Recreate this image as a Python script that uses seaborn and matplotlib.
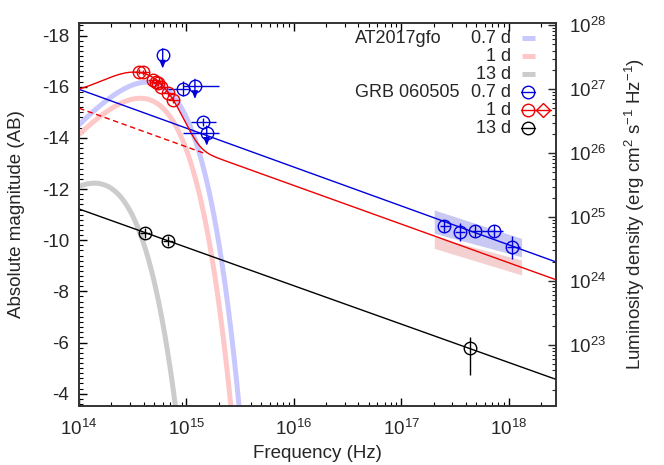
import numpy as np
import pandas as pd
import matplotlib
matplotlib.use("Agg")
import matplotlib.pyplot as plt
import seaborn as sns
from matplotlib.ticker import MultipleLocator, LogLocator, NullFormatter, LogFormatterSciNotation

# ---------------- data ----------------
# Afterglow power laws of GRB 060505 (AB mag at 1e14 Hz, slope in mag per decade)
pl_epochs = ["0.7 d", "1 d", "13 d"]
pl_mag_at_1e14 = [-15.90, -15.16, -11.22]
pl_slope = [1.52, 1.51, 1.50]
pl_colors = ["#0000dd", "#ee0000", "#000000"]

# AT2017gfo kilonova blackbody curves
kn_epochs = ["0.7 d", "1 d", "13 d"]
kn_temp_K = [7290, 6325, 2370]
kn_peak_mag = [-16.18, -15.55, -12.23]
kn_colors = ["#c8c8ff", "#ffc8c8", "#cccccc"]

# GRB 060505 1 d fit: blackbody + power law
fit_bb_temp_K = 5760
fit_bb_peak_mag = -16.42
fit_dashed_max_nu = 1.45e15

# GRB 060505 0.7 d, optical detections
b_opt_nu = [9.2e14, 1.435e15]
b_opt_nu_lo = [6.75e14, 1.096e15]
b_opt_nu_hi = [1.08e15, 1.89e15]
b_opt_mag = [-15.93, -14.63]
b_opt_mag_err = [0.30, 0.15]

# GRB 060505 0.7 d, optical upper limits
b_ul_nu = [6.01e14, 1.20e15, 1.545e15]
b_ul_nu_lo = [6.01e14, 9.29e14, 9.35e14]
b_ul_nu_hi = [6.01e14, 2.01e15, 2.02e15]
b_ul_mag = [-17.23, -16.04, -14.21]

# GRB 060505 0.7 d, X-ray
b_x_nu = [2.52e17, 3.52e17, 4.86e17, 7.36e17, 1.08e18]
b_x_nu_lo = [2.30e17, 3.17e17, 4.37e17, 5.62e17, 9.60e17]
b_x_nu_hi = [2.84e17, 3.93e17, 5.62e17, 8.91e17, 1.28e18]
b_x_mag = [-10.57, -10.33, -10.36, -10.37, -9.72]
b_x_mag_err = [0.23, 0.35, 0.25, 0.23, 0.45]

# GRB 060505 1 d, optical
r_opt_nu = [3.62e14, 3.97e14, 4.92e14, 5.18e14, 5.47e14, 5.79e14, 6.78e14, 7.55e14]
r_opt_mag = [-16.58, -16.56, -16.26, -16.19, -16.13, -16.00, -15.74, -15.48]
r_opt_dex_err = 0.05
r_opt_mag_err = 0.10

# GRB 060505 13 d
k_nu = [4.12e14, 6.78e14, 4.37e17]
k_dex_err = [0.045, 0.045, 0.0]
k_mag = [-10.29, -9.98, -5.78]
k_mag_err_up = [0.20, 0.20, 0.45]
k_mag_err_down = [0.20, 0.20, 1.05]

# X-ray spectral uncertainty bands
band_nu = [2.03e17, 1.32e18]
band_blue_top = [-11.18, -10.07]
band_blue_bottom = [-10.27, -9.35]
band_red_top = [-10.135, -9.225]
band_red_bottom = [-9.68, -8.64]

# ---------------- helpers ----------------
H_OVER_K = 6.626e-27 / 1.381e-16
MAG_ZP = 51.595  # AB magnitude of L_nu = 1 erg/s/Hz at 10 pc


def bb_mag(nu, temp, peak_mag):
    x = H_OVER_K * nu / temp
    with np.errstate(over="ignore"):
        f = x ** 3 / np.expm1(x)
    fmax = 2.8214 ** 3 / np.expm1(2.8214)
    return peak_mag - 2.5 * np.log10(f / fmax)


def pl_mag(nu, m0, slope):
    return m0 + slope * (np.log10(nu) - 14.0)


def add_mag(m1, m2):
    return -2.5 * np.log10(10 ** (-0.4 * m1) + 10 ** (-0.4 * m2))


def m2l(m):
    return 10 ** ((MAG_ZP - np.asarray(m)) / 2.5)


# ---------------- figure ----------------
sns.set_style("ticks")
plt.rcParams["font.family"] = ["Liberation Sans", "DejaVu Sans"]
plt.rcParams["mathtext.fontset"] = "custom"
plt.rcParams["mathtext.rm"] = "Liberation Sans"
plt.rcParams["mathtext.it"] = "Liberation Sans:italic"
plt.rcParams["mathtext.bf"] = "Liberation Sans:bold"
plt.rcParams["axes.unicode_minus"] = False
FS = 13.5
LFS = 13

fig = plt.figure(figsize=(6.64, 4.65), dpi=100)
ax = fig.add_axes([0.119, 0.127, 0.719, 0.824])
XMIN, XMAX = 1e14, 10 ** 18.445
YBOT, YTOP = -3.52, -18.5

grid = np.logspace(14, 18.445, 3000)

# kilonova curves
for T, mp, c in zip(kn_temp_K, kn_peak_mag, kn_colors):
    m = bb_mag(grid, T, mp)
    keep = m < 0
    df = pd.DataFrame({"nu": grid[keep], "mag": m[keep]})
    sns.lineplot(data=df, x="nu", y="mag", ax=ax, color=c, lw=3.6,
                 estimator=None, sort=False, zorder=1)

# bands
ax.fill_between(band_nu, band_blue_top, band_blue_bottom, color="#c8c8f2", lw=0, zorder=1)
ax.fill_between(band_nu, band_red_top, band_red_bottom, color="#f4d0d0", lw=0, zorder=1)

# power laws
for i, (m0, s, c) in enumerate(zip(pl_mag_at_1e14, pl_slope, pl_colors)):
    m = pl_mag(grid, m0, s)
    if i == 1:
        total = add_mag(m, bb_mag(grid, fit_bb_temp_K, fit_bb_peak_mag))
        df = pd.DataFrame({"nu": grid, "mag": total})
        sns.lineplot(data=df, x="nu", y="mag", ax=ax, color=c, lw=1.0,
                     estimator=None, sort=False, zorder=3)
        sel = grid <= fit_dashed_max_nu
        dfd = pd.DataFrame({"nu": grid[sel], "mag": m[sel]})
        sns.lineplot(data=dfd, x="nu", y="mag", ax=ax, color=c, lw=1.0,
                     ls=(0, (4, 2.5)), estimator=None, sort=False, zorder=3)
    else:
        df = pd.DataFrame({"nu": grid, "mag": m})
        sns.lineplot(data=df, x="nu", y="mag", ax=ax, color=c, lw=1.0,
                     estimator=None, sort=False, zorder=3)

pt = dict(fmt="o", ms=9, mfc="none", mew=1.0, elinewidth=1.0, capsize=0, zorder=5)

blue = "#0000dd"
red = "#ee0000"

# blue optical
nu = np.array(b_opt_nu)
ax.errorbar(nu, b_opt_mag, xerr=[nu - np.array(b_opt_nu_lo), np.array(b_opt_nu_hi) - nu],
            yerr=b_opt_mag_err, color=blue, mec=blue, **pt)
# blue upper limits
nu = np.array(b_ul_nu)
ax.errorbar(nu, b_ul_mag, xerr=[nu - np.array(b_ul_nu_lo), np.array(b_ul_nu_hi) - nu],
            color=blue, mec=blue, **pt)
for n, m in zip(b_ul_nu, b_ul_mag):
    ax.annotate("", xy=(n, m + 0.52), xytext=(n, m - 0.25),
                arrowprops=dict(arrowstyle="-|>,head_length=0.45,head_width=0.18",
                                color=blue, lw=1.0, shrinkA=0, shrinkB=0), zorder=5)
# blue X-ray
nu = np.array(b_x_nu)
ax.errorbar(nu, b_x_mag, xerr=[nu - np.array(b_x_nu_lo), np.array(b_x_nu_hi) - nu],
            yerr=b_x_mag_err, color=blue, mec=blue, **pt)

# red optical
nu = np.array(r_opt_nu)
lo = nu * (1 - 10 ** (-r_opt_dex_err))
hi = nu * (10 ** r_opt_dex_err - 1)
ax.errorbar(nu, r_opt_mag, xerr=[lo, hi], yerr=r_opt_mag_err, color=red, mec=red, **pt)

# black 13 d
nu = np.array(k_nu)
dex = np.array(k_dex_err)
ax.errorbar(nu, k_mag, xerr=[nu * (1 - 10 ** (-dex)), nu * (10 ** dex - 1)],
            yerr=[k_mag_err_up, k_mag_err_down], color="black", mec="black", **pt)

# axes
ax.set_xscale("log")
ax.set_xlim(XMIN, XMAX)
ax.set_ylim(YBOT, YTOP)
ax.yaxis.set_major_locator(MultipleLocator(2))
ax.yaxis.set_minor_locator(MultipleLocator(0.2))
ax.xaxis.set_major_locator(LogLocator(base=10, numticks=20))
ax.xaxis.set_minor_locator(LogLocator(base=10, subs=np.arange(2, 10), numticks=100))
ax.xaxis.set_minor_formatter(NullFormatter())
ax.xaxis.get_offset_text().set_visible(False)
ax.yaxis.get_offset_text().set_visible(False)
ax.tick_params(which="both", direction="in", top=True, right=False, labelsize=FS, color="black")
ax.tick_params(which="major", length=6, width=1)
ax.tick_params(which="minor", length=3, width=0.8)
ax.tick_params(axis="x", which="major", pad=9)
ax.tick_params(axis="y", which="major", pad=7)
ax.set_xlabel("Frequency (Hz)", fontsize=FS, labelpad=5)
ax.set_ylabel("Absolute magnitude (AB)", fontsize=FS, labelpad=12)
for s in ax.spines.values():
    s.set_linewidth(1.2)
    s.set_color("#333333")

ax2 = ax.twinx()
ax2.set_yscale("log")
ax2.set_ylim(m2l(YBOT), m2l(YTOP))
ax2.yaxis.set_major_locator(LogLocator(base=10, numticks=20))
ax2.yaxis.set_minor_locator(LogLocator(base=10, subs=np.arange(2, 10), numticks=100))
ax2.yaxis.set_minor_formatter(NullFormatter())
ax2.yaxis.set_major_formatter(LogFormatterSciNotation())
ax2.yaxis.get_offset_text().set_visible(False)
ax2.tick_params(which="both", direction="in", labelsize=FS)
ax2.tick_params(which="major", length=6, width=1, pad=9)
ax2.tick_params(which="minor", length=3, width=0.8)
ax2.set_ylabel(r"Luminosity density (erg cm$^{2}$ s$^{-1}$ Hz$^{-1}$)", fontsize=FS, labelpad=12)
for s in ax2.spines.values():
    s.set_linewidth(1.2)
    s.set_color("#333333")

# manual legend (axes fraction)
def fx(px):
    return (px - 79) / 477.5


def fy(py):
    return (406 - py) / 383.3


rows = [38, 56, 74, 92, 110, 128]
tkw = dict(transform=ax.transAxes, fontsize=LFS, va="center")
ax.text(fx(355), fy(rows[0]), "AT2017gfo", ha="left", **tkw)
ax.text(fx(355), fy(rows[3]), "GRB 060505", ha="left", **tkw)
for r, lab in zip(rows[:3], kn_epochs):
    ax.text(fx(511), fy(r), lab, ha="right", **tkw)
for r, lab in zip(rows[3:], pl_epochs):
    ax.text(fx(511), fy(r), lab, ha="right", **tkw)
for r, c in zip(rows[:3], kn_colors):
    ax.plot([fx(522), fx(535)], [fy(r), fy(r)], transform=ax.transAxes, color=c, lw=3.6,
            solid_capstyle="butt", clip_on=False)
for r, c in zip(rows[3:], [blue, red, "black"]):
    ax.plot([fx(521), fx(535)], [fy(r), fy(r)], transform=ax.transAxes, color=c, lw=1.0)
    ax.plot([fx(528)], [fy(r)], transform=ax.transAxes, marker="o", ms=9, mfc="none",
            mec=c, mew=1.0)
ax.plot([fx(536), fx(551)], [fy(rows[4]), fy(rows[4])], transform=ax.transAxes, color=red, lw=1.0)
ax.plot([fx(543.5)], [fy(rows[4])], transform=ax.transAxes, marker="D", ms=7, mfc="none",
        mec=red, mew=1.0)

fig.savefig("out.png", dpi=100)
